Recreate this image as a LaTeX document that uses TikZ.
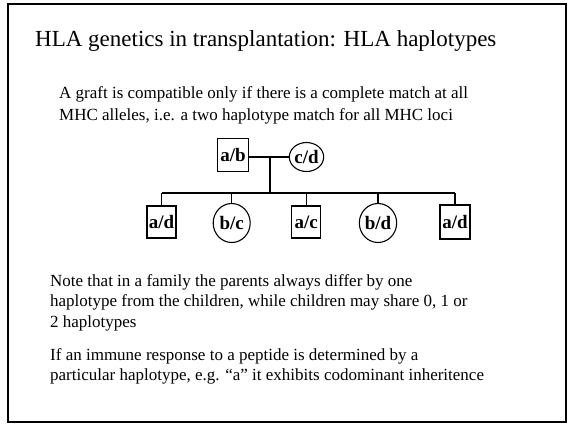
\documentclass[tikz,border=0pt]{standalone}
\usepackage{fontspec}
\setmainfont{Liberation Serif}
\usetikzlibrary{shapes.geometric}
\tikzset{
  px/.style={x=1pt,y=-1pt},
  frame/.style={draw=black,line width=1.8pt},
  titletext/.style={anchor=base west,inner sep=0pt,font=\fontsize{23}{27}\selectfont},
  bodytext/.style={anchor=base west,inner sep=0pt,font=\fontsize{17}{21}\selectfont},
  male/.style={draw,line width=1.1pt,rectangle,inner sep=0pt,minimum width=29pt,minimum height=32pt,font=\fontsize{19}{20}\selectfont\bfseries},
  female/.style={draw,line width=1.1pt,ellipse,inner sep=0pt,minimum width=37pt,minimum height=39pt,font=\fontsize{19}{20}\selectfont\bfseries},
  link/.style={line width=1.2pt}
}
\begin{document}
\begin{tikzpicture}[px]
  \useasboundingbox (0,0) rectangle (568,424);
  \draw[frame] (8,4) rectangle (566,422);

  % headline and upper paragraph
  \node[titletext] (title) at (35,46) {HLA genetics in transplantation: HLA haplotypes};
  \node[bodytext] (intro1) at (59,98) {A graft is compatible only if there is a complete match at all};
  \node[bodytext] (intro2) at (59,120) {MHC alleles, i.e. a two haplotype match for all MHC loci};

  % parents
  \node[male,minimum width=31pt,minimum height=33pt] (ab) at (233,155) {a/b};
  \node[female,minimum width=34pt,minimum height=29pt] (cd) at (306.5,157) {c/d};
  \coordinate (m) at (270,157);
  \coordinate (sl) at (162,193);
  \coordinate (sr) at (455,193);

  % children
  \node[male] (c1) at (161.5,222) {a/d};
  \node[female] (c2) at (231.7,223) {b/c};
  \node[male] (c3) at (306.3,222) {a/c};
  \node[female,minimum width=34pt] (c4) at (378,223) {b/d};
  \node[male,minimum width=30pt,minimum height=34pt] (c5) at (455,222) {a/d};

  % pedigree lines
  \draw[link] (ab.east |- m) -- (cd.west |- m);
  \draw[link] (m) -- (m |- sl);
  \draw[link] (sl) -- (sr);
  \foreach \c in {c1,c2,c3,c4,c5}
    \draw[link] (\c.north) -- (\c |- sl);

  % lower paragraphs
  \node[bodytext] (note1) at (50,286) {Note that in a family the parents always differ by one};
  \node[bodytext] (note2) at (50,306.5) {haplotype from the children, while children may share 0, 1 or};
  \node[bodytext] (note3) at (50,327) {2 haplotypes};
  \node[bodytext] (codom1) at (50,360) {If an immune response to a peptide is determined by a};
  \node[bodytext] (codom2) at (50,380.5) {particular haplotype, e.g. “a” it exhibits codominant inheritence};
\end{tikzpicture}
\end{document}
